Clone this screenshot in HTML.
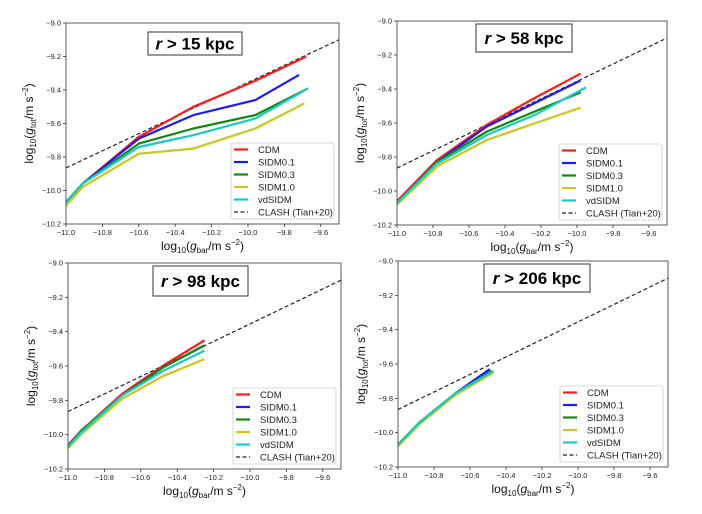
<!DOCTYPE html>
<html><head><meta charset="utf-8"><style>
body{margin:0;background:#fff;}
svg{display:block;font-family:"Liberation Sans","DejaVu Sans",sans-serif;}
</style></head><body>
<svg id="c" width="702" height="514" viewBox="0 0 702 514"></svg>
<script>
const seriesNames = ["CDM","SIDM0.1","SIDM0.3","SIDM1.0","vdSIDM"];
const seriesColors = ["#ff1a1a","#1a1aff","#118811","#c8c81a","#19c8c8"];
const panelTitles = ["15","58","98","206"];
const xTicks = [-11.0,-10.8,-10.6,-10.4,-10.2,-10.0,-9.8,-9.6];
const yTicks = [-10.2,-10.0,-9.8,-9.6,-9.4,-9.2,-9.0];
const clashX = [-11.0,-9.5];
const clashY = [-9.865,-9.1];
// panel 1 (r>15)
const p1x = [[-11,-10.91,-10.6,-10.3,-9.97,-9.68],[-11,-10.91,-10.6,-10.3,-9.96,-9.72],[-11,-10.91,-10.6,-10.3,-9.96,-9.67],[-11,-10.91,-10.6,-10.3,-9.96,-9.69],[-11,-10.91,-10.6,-10.3,-9.96,-9.67]];
const p1y = [[-10.07,-9.96,-9.68,-9.5,-9.35,-9.2],[-10.07,-9.96,-9.69,-9.55,-9.46,-9.31],[-10.07,-9.96,-9.72,-9.63,-9.55,-9.39],[-10.09,-9.98,-9.78,-9.75,-9.63,-9.48],[-10.07,-9.96,-9.74,-9.67,-9.57,-9.39]];
// panel 2 (r>58)
const p2x = [[-11,-10.78,-10.5,-10.23,-9.98],[-11,-10.78,-10.5,-10.23,-9.98],[-11,-10.78,-10.5,-10.23,-9.98],[-11,-10.77,-10.5,-10.23,-9.98],[-11,-10.78,-10.5,-10.23,-9.95]];
const p2y = [[-10.06,-9.82,-9.61,-9.45,-9.31],[-10.07,-9.83,-9.62,-9.48,-9.35],[-10.07,-9.83,-9.65,-9.53,-9.42],[-10.08,-9.85,-9.7,-9.6,-9.51],[-10.07,-9.84,-9.67,-9.55,-9.39]];
// panel 3 (r>98)
const p3x = [[-11,-10.93,-10.7,-10.48,-10.25],[-11,-10.93,-10.7,-10.48,-10.25],[-11,-10.93,-10.7,-10.48,-10.25],[-11,-10.93,-10.7,-10.48,-10.25],[-11,-10.93,-10.7,-10.48,-10.25]];
const p3y = [[-10.06,-9.98,-9.76,-9.6,-9.45],[-10.07,-9.98,-9.77,-9.61,-9.48],[-10.07,-9.98,-9.77,-9.61,-9.48],[-10.08,-10.0,-9.79,-9.66,-9.56],[-10.07,-9.99,-9.77,-9.63,-9.51]];
// panel 4 (r>206)
const p4x = [[-11,-10.88,-10.68,-10.49],[-11,-10.88,-10.68,-10.49],[-11,-10.88,-10.68,-10.48],[-11,-10.88,-10.68,-10.47],[-11,-10.88,-10.68,-10.47]];
const p4y = [[-10.07,-9.94,-9.77,-9.63],[-10.07,-9.94,-9.77,-9.63],[-10.07,-9.94,-9.77,-9.64],[-10.08,-9.95,-9.78,-9.65],[-10.07,-9.94,-9.77,-9.64]];
const panelX = [p1x,p2x,p3x,p4x];
const panelY = [p1y,p2y,p3y,p4y];
const boxes = [{l:66,r:339,t:23,b:224},{l:397,r:667,t:21,b:225},{l:68,r:341,t:263,b:469},{l:398,r:668,t:261,b:467}];
const titleBox = [{x:82,y:9,w:94,h:23},{x:79,y:3,w:96,h:28},{x:85,y:3,w:95,h:30},{x:86,y:3,w:106,h:28}];
const svg = document.getElementById('c');
const NS = 'http://www.w3.org/2000/svg';
function mk(tag, attrs, parent){const e=document.createElementNS(NS,tag);for(const k in attrs)e.setAttribute(k,attrs[k]);(parent||svg).appendChild(e);return e;}
boxes.forEach((B,pi)=>{
  const g = mk('g',{});
  
  
  const X = v => B.l + (v+11)/1.5*(B.r-B.l);
  const Y = v => B.b - (v+10.2)/1.2*(B.b-B.t);
  const clip = mk('clipPath',{id:'cp'+pi},g);
  mk('rect',{x:B.l,y:B.t,width:B.r-B.l,height:B.b-B.t},clip);
  const plot = mk('g',{'clip-path':'url(#cp'+pi+')'},g);
  const cl = mk('line',{x1:X(clashX[0]),y1:Y(clashY[0]),x2:X(clashX[1]),y2:Y(clashY[1]),stroke:'#222','stroke-width':1.2,'stroke-dasharray':'4,2.5'},plot);
  
  
  const xs = panelX[pi], ys = panelY[pi];
  seriesNames.forEach((n,si)=>{
    const pts = xs[si].map((v,i)=>X(v).toFixed(1)+','+Y(ys[si][i]).toFixed(1)).join(' ');
    const pl = mk('polyline',{points:pts,fill:'none',stroke:seriesColors[si],'stroke-width':2.2,'stroke-linejoin':'round'},plot);
    
    
  });
  mk('rect',{x:B.l,y:B.t,width:B.r-B.l,height:B.b-B.t,fill:'none',stroke:'#333','stroke-width':0.8},g);
  xTicks.forEach(t=>{
    mk('line',{x1:X(t),y1:B.b,x2:X(t),y2:B.b+3,stroke:'#333','stroke-width':0.8},g);
    const tx = mk('text',{x:X(t),y:B.b+11,'font-size':7.5,'text-anchor':'middle',fill:'#222'},g);
    tx.textContent = '\u2212'+Math.abs(t).toFixed(1);
    
    
  });
  yTicks.forEach(t=>{
    mk('line',{x1:B.l-3,y1:Y(t),x2:B.l,y2:Y(t),stroke:'#333','stroke-width':0.8},g);
    const ty = mk('text',{x:B.l-5,y:Y(t)+2.5,'font-size':7.5,'text-anchor':'end',fill:'#222'},g);
    ty.textContent = '\u2212'+Math.abs(t).toFixed(1);
    
    
  });
  const xl = mk('text',{x:(B.l+B.r)/2,y:B.b+26,'font-size':12,'text-anchor':'middle',fill:'#111'},g);
  xl.innerHTML = 'log<tspan font-size="8" dy="3">10</tspan><tspan dy="-3">(</tspan><tspan font-style="italic">g</tspan><tspan font-size="8" dy="3">bar</tspan><tspan dy="-3">/m s</tspan><tspan font-size="8" dy="-5">\u22122</tspan><tspan dy="5">)</tspan>';
  
  
  const yl = mk('text',{x:0,y:0,'font-size':12,'text-anchor':'middle',fill:'#111',transform:'translate('+(B.l-33)+','+((B.t+B.b)/2)+') rotate(-90)'},g);
  yl.innerHTML = 'log<tspan font-size="8" dy="3">10</tspan><tspan dy="-3">(</tspan><tspan font-style="italic">g</tspan><tspan font-size="8" dy="3">tot</tspan><tspan dy="-3">/m s</tspan><tspan font-size="8" dy="-5">\u22122</tspan><tspan dy="5">)</tspan>';
  
  
  const T = titleBox[pi];
  const tb = mk('g',{},g);
  
  
  mk('rect',{x:B.l+T.x,y:B.t+T.y,width:T.w,height:T.h,fill:'#fff',stroke:'#333','stroke-width':1},tb);
  const tt = mk('text',{x:B.l+T.x+T.w/2,y:B.t+T.y+T.h/2+6,'font-size':17,'font-weight':'bold','text-anchor':'middle',fill:'#000'},tb);
  tt.innerHTML = '<tspan font-style="italic">r</tspan> &gt; '+panelTitles[pi]+' kpc';
  const lg = mk('g',{},g);
  
  
  const lx = B.r-108, ly = B.b-81;
  mk('rect',{x:lx,y:ly,width:103,height:76,rx:2,fill:'#fff',stroke:'#ccc','stroke-width':0.8},lg);
  const labels = seriesNames.concat(['CLASH (Tian+20)']);
  labels.forEach((n,i)=>{
    const yy = ly+6.5+i*12.5;
    const ln = mk('line',{x1:lx+3,y1:yy,x2:lx+17,y2:yy,stroke:i<5?seriesColors[i]:'#222','stroke-width':i<5?2.2:1.2,'stroke-dasharray':i<5?'none':'4,2.5'},lg);
    
    
    const tx = mk('text',{x:lx+27,y:yy+3.5,'font-size':9.5,fill:'#222'},lg);
    tx.textContent = n;
    
    
  });
});
</script>
</body></html>
